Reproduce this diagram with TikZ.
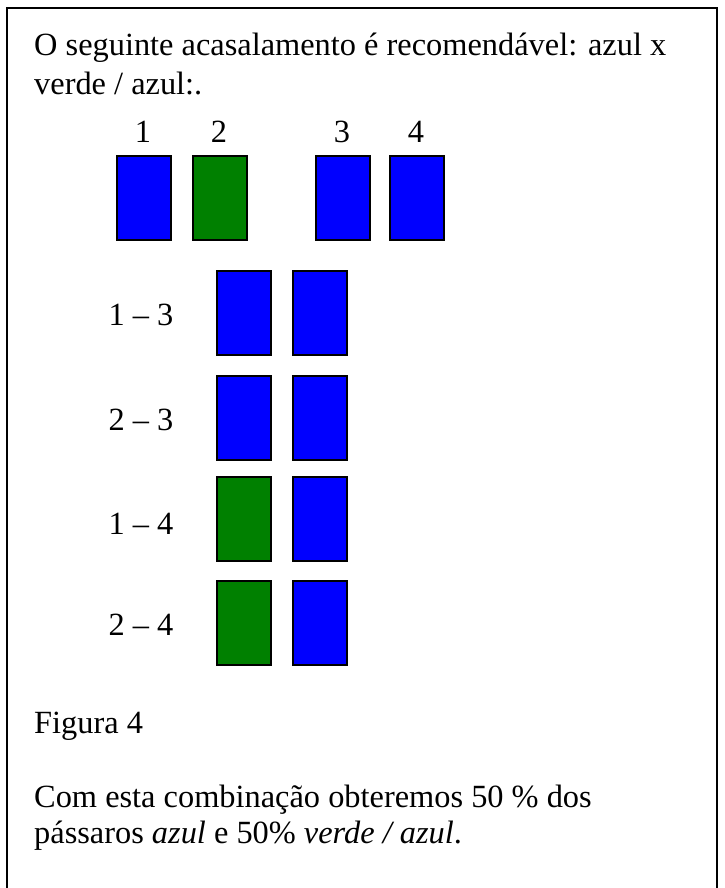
\documentclass[tikz,border=0pt]{standalone}
\usepackage{fontspec}
\setmainfont{Liberation Serif}
\definecolor{azul}{HTML}{0000FF}
\definecolor{verde}{HTML}{008000}
\begin{document}
\begin{tikzpicture}[x=1bp,y=-1bp,
  txt/.style={anchor=base west,inner sep=0pt,font=\fontsize{32.5}{39}\selectfont},
  lbl/.style={anchor=base,inner sep=0pt,font=\fontsize{32.5}{39}\selectfont},
  bird/.style={draw=black,line width=1.6bp,minimum width=54bp,minimum height=84bp,inner sep=0pt,anchor=north west},
  azulbox/.style={bird,fill=azul},
  verdebox/.style={bird,fill=verde}]
\useasboundingbox (0,0) rectangle (725,888);
\draw[line width=2bp] (7,900) -- (7,8) -- (717,8) -- (717,900);
\node[txt] (l1) at (34,55) {O seguinte acasalamento é recomendável: azul x};
\node[txt] (l2) at (34,94) {verde / azul:.};
% top row
\node[lbl] (n1) at (143,142) {1};
\node[lbl] (n2) at (219,142) {2};
\node[lbl] (n3) at (342,142) {3};
\node[lbl] (n4) at (416,142) {4};
\node[azulbox] (b1) at (116,155) {};
\node[verdebox] (b2) at (192,155) {};
\node[azulbox] (b3) at (315,155) {};
\node[azulbox] (b4) at (389,155) {};
% combinations
\node[lbl] (c13) at (141,325) {1 – 3};
\node[azulbox] (r1a) at (216,270) {};
\node[azulbox] (r1b) at (292,270) {};
\node[lbl] (c23) at (141,430) {2 – 3};
\node[azulbox] (r2a) at (216,375) {};
\node[azulbox] (r2b) at (292,375) {};
\node[lbl] (c14) at (141,534) {1 – 4};
\node[verdebox] (r3a) at (216,476) {};
\node[azulbox] (r3b) at (292,476) {};
\node[lbl] (c24) at (141,635) {2 – 4};
\node[verdebox] (r4a) at (216,580) {};
\node[azulbox] (r4b) at (292,580) {};
% bottom text
\node[txt] (fig) at (34,733) {Figura 4};
\node[txt] (s1) at (34,807) {Com esta combinação obteremos 50 \% dos};
\node[txt] (s2) at (34,843) {pássaros \textit{azul} e 50\% \textit{verde / azul}.};
\end{tikzpicture}
\end{document}
